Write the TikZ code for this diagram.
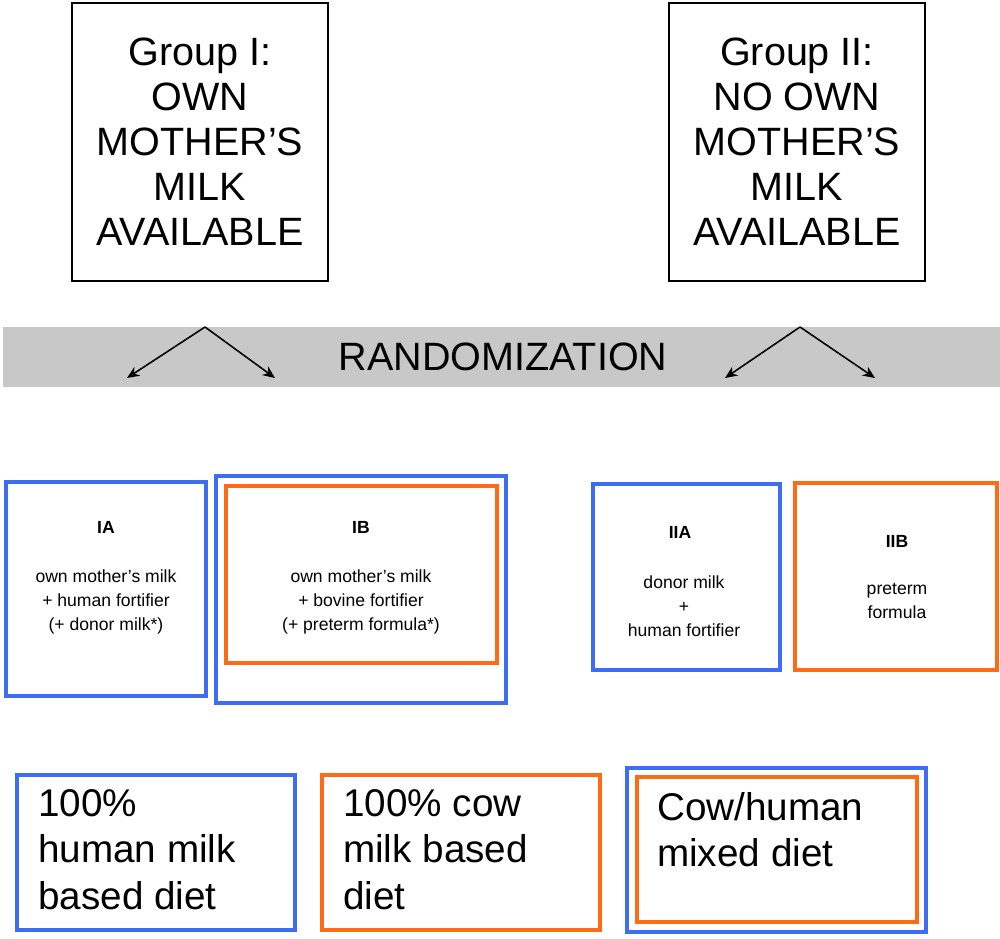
\documentclass[tikz,border=0pt]{standalone}
\usepackage{fontspec}
\setmainfont{Liberation Sans}
\usetikzlibrary{arrows.meta}
\definecolor{bl}{HTML}{3D6EF2}
\definecolor{orng}{HTML}{FF6A14}
\definecolor{barg}{HTML}{C8C8C8}
\begin{document}
\begin{tikzpicture}[x=0.02cm,y=-0.02cm,
  grp/.style={draw=black,line width=0.8pt,align=center,font=\fontsize{22.5}{25.6}\selectfont},
  bbox/.style={draw=bl,line width=2.8pt},
  obox/.style={draw=orng,line width=2.8pt},
  sm/.style={align=center,font=\fontsize{10}{13.5}\selectfont},
  big/.style={align=left,anchor=north west,font=\fontsize{22}{26.5}\selectfont},
  arr/.style={-{Stealth[length=7pt,width=6pt]},line width=0.9pt}]
\useasboundingbox (0,0) rectangle (1000,939);
\draw[grp] (72,3) rectangle (328,281);
\node[grp,draw=none] (g1) at (200,142) {Group I:\\OWN\\MOTHER’S\\MILK\\AVAILABLE};
\draw[grp] (669,3) rectangle (925,281);
\node[grp,draw=none] (g2) at (797,142) {Group II:\\NO OWN\\MOTHER’S\\MILK\\AVAILABLE};
\fill[barg] (3,327) rectangle (1000,387);
\node[font=\fontsize{22.5}{28}\selectfont] (rnd) at (503,357) {RANDOMIZATION};
\coordinate (a1) at (205,327); \coordinate (a1l) at (127,378); \coordinate (a1r) at (275,378);
\coordinate (a2) at (800,327); \coordinate (a2l) at (725,378); \coordinate (a2r) at (875,378);
\draw[arr] (a1)--(a1l); \draw[arr] (a1)--(a1r);
\draw[arr] (a2)--(a2l); \draw[arr] (a2)--(a2r);
% middle boxes
\draw[bbox] (6,482) rectangle (206,696);
\node[sm,font=\fontsize{10}{13}\bfseries] (ia) at (106,527) {IA};
\node[sm] (iat) at (106,602) {own mother’s milk\\+ human fortifier\\(+ donor milk*)};
\draw[bbox] (216,476) rectangle (506,703);
\draw[obox] (226,486) rectangle (497,663);
\node[sm,font=\fontsize{10}{13}\bfseries] (ib) at (361,527) {IB};
\node[sm] (ibt) at (361,602) {own mother’s milk\\+ bovine fortifier\\(+ preterm formula*)};
\draw[bbox] (593,484) rectangle (780,670);
\node[sm,font=\fontsize{10}{13}\bfseries] (iia) at (680,532) {IIA};
\node[sm] (iiat) at (684,606) {donor milk\\+\\human fortifier};
\draw[obox] (795,483) rectangle (997,670);
\node[sm,font=\fontsize{10}{13}\bfseries] (iib) at (897,541) {IIB};
\node[sm] (iibt) at (897,601) {preterm\\formula};
% bottom
\draw[bbox] (17,775) rectangle (295,930);
\node[big] (d1) at (32,783) {100\%\\human milk\\based diet};
\draw[obox] (322,775) rectangle (600,930);
\node[big] (d2) at (337,783) {100\% cow\\milk based\\diet};
\draw[bbox] (627,768) rectangle (926,932);
\draw[obox] (637,777) rectangle (917,922);
\node[big] (d3) at (651,786) {Cow/human\\mixed diet};
\end{tikzpicture}
\end{document}
